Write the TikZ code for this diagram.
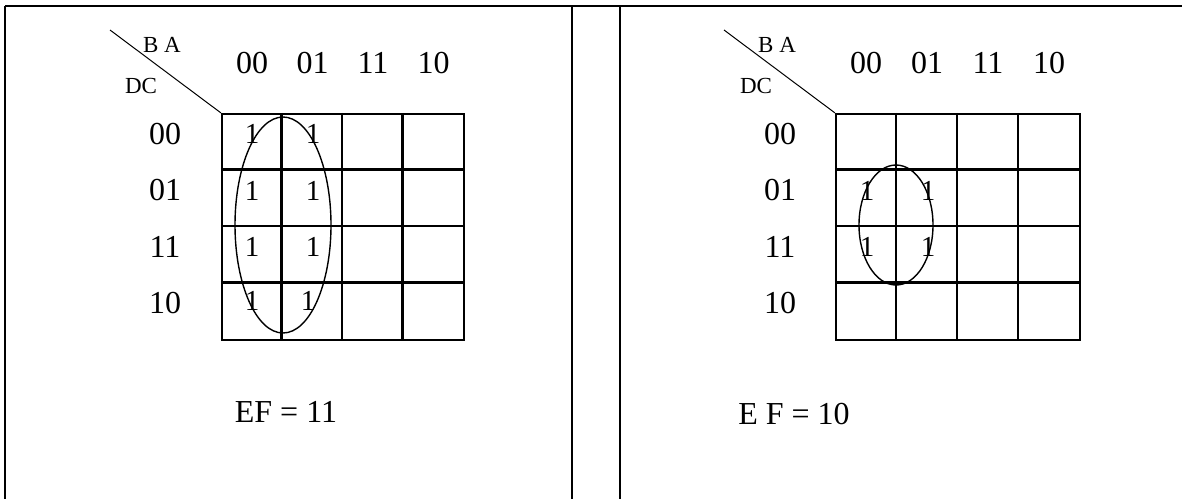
\documentclass[tikz,border=0pt]{standalone}
\usepackage{fontspec}
\setmainfont{Liberation Serif}
\usetikzlibrary{calc,positioning}
\tikzset{
  frame/.style = {line width=2.2pt},
  kmap/.style  = {draw, line width=2.2pt, minimum width=242pt, minimum height=226pt, inner sep=0pt},
  cell/.style  = {line width=2.2pt},
  head/.style  = {font=\fontsize{32}{32}\selectfont, inner sep=0pt},
  var/.style   = {font=\fontsize{23}{23}\selectfont, inner sep=0pt},
  one/.style   = {font=\fontsize{29}{29}\selectfont, inner sep=0pt},
  ring/.style  = {line width=1.4pt},
  slash/.style = {line width=1pt}
}

\begin{document}
\begin{tikzpicture}[x=1pt,y=-1pt]
\useasboundingbox (0,0) rectangle (1182,499);
% table frame
\draw [frame] (5,6) -- (1182,6);
\draw [frame] (5,6) -- (5,499);
\draw [frame] (572,6) -- (572,499);
\draw [frame] (620,6) -- (620,499);
% left map, EF = 11
\node [kmap] (mapL) at (343,227) {};
\foreach \i in {1,2,3} {
  \draw [cell] ($(mapL.north west)+(\i*60.5,0)$) -- ($(mapL.south west)+(\i*60.5,0)$);
  \draw [cell] ($(mapL.north west)+(0,\i*56.5)$) -- ($(mapL.north east)+(0,\i*56.5)$);
}
\foreach \lab [count=\c from 0] in {00,01,11,10} {
  \node [head] (colL\c) at (252+\c*60.5,63) {\lab};
  \node [head] (rowL\c) at (165,134+\c*56.5) {\lab};
}
\node [var] (baL) at (162,45) {B A};
\node [var] (dcL) at (141,86) {DC};
\coordinate (cutL) at (110,30);
\draw [slash] (cutL) -- (mapL.north west);
% ones of the left map
\node [one] (oneL00a) at (252,134) {1};
\node [one] (oneL00b) at (313,134) {1};
\node [one] (oneL01a) at (252,191) {1};
\node [one] (oneL01b) at (313,191) {1};
\node [one] (oneL11a) at (252,247) {1};
\node [one] (oneL11b) at (313,247) {1};
\node [one] (oneL10a) at (252,301) {1};
\node [one] (oneL10b) at (308,301) {1};
\draw [ring] (283,225) ellipse [x radius=48pt, y radius=108pt];
\node [head] (efL) at (286,412) {EF = 11};
% right map, E F = 10
\node [kmap, minimum width=244pt] (mapR) at (958,227) {};
\foreach \i in {1,2,3} {
  \draw [cell] ($(mapR.north west)+(\i*61,0)$) -- ($(mapR.south west)+(\i*61,0)$);
  \draw [cell] ($(mapR.north west)+(0,\i*56.5)$) -- ($(mapR.north east)+(0,\i*56.5)$);
}
\foreach \lab [count=\c from 0] in {00,01,11,10} {
  \node [head] (colR\c) at (866+\c*61,63) {\lab};
  \node [head] (rowR\c) at (780,134+\c*56.5) {\lab};
}
\node [var] (baR) at (777,45) {B A};
\node [var] (dcR) at (756,86) {DC};
\coordinate (cutR) at (724,30);
\draw [slash] (cutR) -- (mapR.north west);
% ones of the right map
\node [one] (oneR01a) at (867,191) {1};
\node [one] (oneR01b) at (928,191) {1};
\node [one] (oneR11a) at (867,247) {1};
\node [one] (oneR11b) at (928,247) {1};
\draw [ring] (896,225) ellipse [x radius=37pt, y radius=60pt];
\node [head] (efR) at (794,414) {E F = 10};
\end{tikzpicture}
\end{document}
